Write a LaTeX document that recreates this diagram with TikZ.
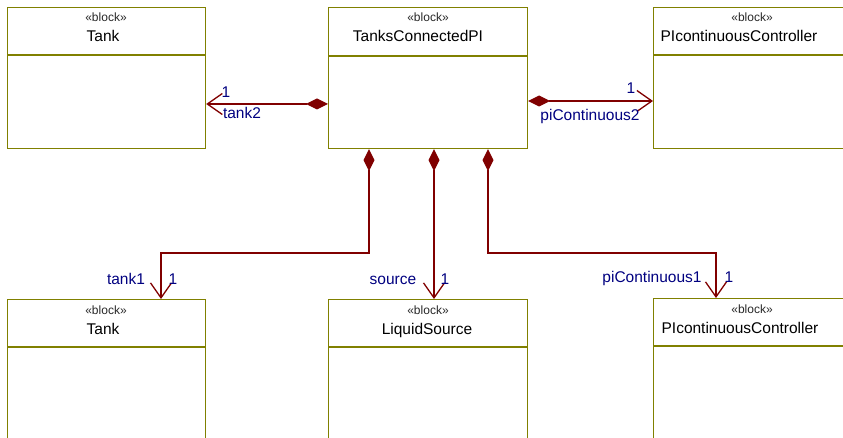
\documentclass[tikz,border=0pt]{standalone}
\usepackage{fontspec}
\setmainfont{Liberation Sans}
\usetikzlibrary{arrows.meta}
\definecolor{boxline}{RGB}{128,128,0}
\definecolor{conn}{RGB}{128,0,0}
\definecolor{lbl}{RGB}{0,0,128}
\definecolor{stereo}{RGB}{40,40,40}
\tikzset{
  blockbox/.style={draw=boxline, line width=1.2pt, fill=white, anchor=north west, minimum width=198pt, minimum height=141pt, inner sep=0pt},
  sepline/.style={draw=boxline, line width=1.2pt},
  stereotxt/.style={anchor=base, inner sep=0pt, text=stereo, font=\fontsize{12pt}{14pt}\selectfont},
  nametxt/.style={anchor=base, inner sep=0pt, text=black, font=\fontsize{15.5pt}{18pt}\selectfont},
  roletxt/.style={anchor=base, inner sep=0pt, text=lbl, font=\fontsize{15.5pt}{18pt}\selectfont},
  comp/.style={draw=conn, line width=1.3pt, {Diamond[length=22pt,width=11pt,fill=conn]}-{Straight Barb[length=15pt,width=21pt]}}
}
\begin{document}
\begin{tikzpicture}[x=1pt,y=-1pt]
\useasboundingbox (0,0) rectangle (843,438);
\clip (0,0) rectangle (843,438);
% boxes
\node[blockbox] (tankA) at (7,7) {};
\node[blockbox, minimum width=199pt] (main) at (328,7) {};
\node[blockbox, minimum width=199pt] (ctrlA) at (653,7) {};
\node[blockbox, minimum height=150pt] (tankB) at (7,299) {};
\node[blockbox, minimum width=199pt, minimum height=150pt] (src) at (328,299) {};
\node[blockbox, minimum width=199pt, minimum height=150pt] (ctrlB) at (653,298) {};
% compartment separators
\coordinate (sA) at (0,55);
\coordinate (sM) at (0,56);
\coordinate (sB) at (0,347);
\coordinate (sC) at (0,346);
\draw[sepline] (tankA.west |- sA) -- (tankA.east |- sA);
\draw[sepline] (main.west |- sM) -- (main.east |- sM);
\draw[sepline] (ctrlA.west |- sA) -- (ctrlA.east |- sA);
\draw[sepline] (tankB.west |- sB) -- (tankB.east |- sB);
\draw[sepline] (src.west |- sB) -- (src.east |- sB);
\draw[sepline] (ctrlB.west |- sC) -- (ctrlB.east |- sC);
% texts
\node[stereotxt] (tankAst) at (106,22) {«block»};
\node[nametxt] (tankAnm) at (103,42) {Tank};
\node[stereotxt] (mainst) at (428,22) {«block»};
\node[nametxt] (mainnm) at (418,42) {TanksConnectedPI};
\node[stereotxt] (ctrlAst) at (752,22) {«block»};
\node[nametxt] (ctrlAnm) at (739,42) {PIcontinuousController};
\node[stereotxt] (tankBst) at (106,314) {«block»};
\node[nametxt] (tankBnm) at (103,334) {Tank};
\node[stereotxt] (srcst) at (428,314) {«block»};
\node[nametxt] (srcnm) at (427,334) {LiquidSource};
\node[stereotxt] (ctrlBst) at (752,313) {«block»};
\node[nametxt] (ctrlBnm) at (740,333) {PIcontinuousController};
% connectors
\coordinate (y2) at (0,104);
\coordinate (yp2) at (0,101);
\draw[comp] (main.west |- y2) -- (tankA.east |- y2);
\draw[comp] (main.east |- yp2) -- (ctrlA.west |- yp2);
\coordinate (k1) at (369,253);
\coordinate (k1b) at (161,253);
\draw[comp] (main.south -| k1) -- (k1) -- (k1b) -- (tankB.north -| k1b);
\coordinate (ks) at (434,253);
\draw[comp] (main.south -| ks) -- (src.north -| ks);
\coordinate (k3) at (488,253);
\coordinate (k3b) at (716,253);
\draw[comp] (main.south -| k3) -- (k3) -- (k3b) -- (ctrlB.north -| k3b);
% role labels
\node[roletxt] (l1) at (226,98) {1};
\node[roletxt] (l2) at (242,119) {tank2};
\node[roletxt] (l3) at (631,94) {1};
\node[roletxt] (l4) at (590,121) {piContinuous2};
\node[roletxt] (l5) at (126,285) {tank1};
\node[roletxt] (l6) at (173,285) {1};
\node[roletxt] (l7) at (393,285) {source};
\node[roletxt] (l8) at (445,285) {1};
\node[roletxt] (l9) at (652,283) {piContinuous1};
\node[roletxt] (l10) at (729,283) {1};
\end{tikzpicture}
\end{document}
